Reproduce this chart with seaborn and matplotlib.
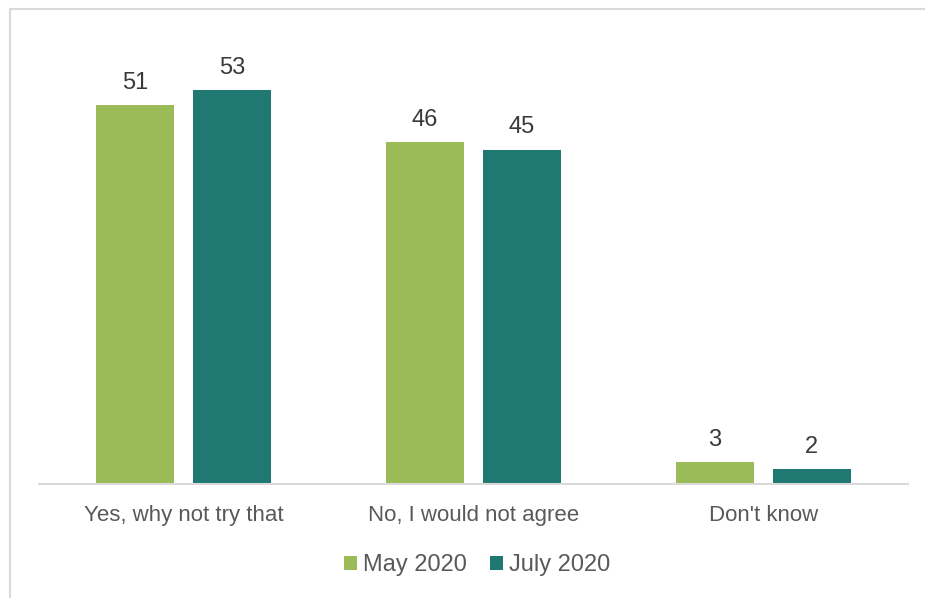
import matplotlib
matplotlib.use("Agg")
import matplotlib.pyplot as plt
from matplotlib.lines import Line2D
from matplotlib.patches import Patch
import seaborn as sns
import pandas as pd

categories = ["Yes, why not try that", "No, I would not agree", "Don't know"]
series = ["May 2020", "July 2020"]
may_2020 = [51, 46, 3]
july_2020 = [53, 45, 2]
colors = ["#9bbb59", "#1f7872"]

df = pd.DataFrame({
    "answer": categories * 2,
    "wave": [series[0]] * 3 + [series[1]] * 3,
    "value": may_2020 + july_2020,
})

sns.set_theme(style="white")
plt.rcParams["font.family"] = ["Liberation Sans", "DejaVu Sans"]

W, H = 925, 598
fig = plt.figure(figsize=(W / 100, H / 100), dpi=100)
ax = fig.add_axes([39 / W, 1 - 484 / H, (908 - 39) / W, (484 - 38) / H])

sns.barplot(data=df, x="answer", y="value", hue="wave", order=categories,
            hue_order=series, palette=colors, width=0.669, gap=0.196,
            saturation=1, legend=False, ax=ax, errorbar=None, linewidth=0)

ax.set_xlim(-0.5, 2.5)
ax.set_ylim(0, 60)
ax.set_xlabel("")
ax.set_ylabel("")
ax.set_yticks([])
for side in ["top", "right", "left"]:
    ax.spines[side].set_visible(False)
ax.spines["bottom"].set_color("#d9d9d9")
ax.spines["bottom"].set_linewidth(1.5)
ax.tick_params(axis="x", length=0, pad=15, labelsize=16, labelcolor="#595959")

for cont in ax.containers:
    for bar, v in zip(cont, cont.datavalues):
        ax.annotate(f"{v:g}", (bar.get_x() + bar.get_width() / 2, v),
                    xytext=(0, 8), textcoords="offset points",
                    ha="center", va="bottom", fontsize=17, color="#3a3a3a")

handles = [Patch(facecolor=c, edgecolor="none") for c in colors]
fig.legend(handles, series, loc="center", bbox_to_anchor=(477 / W, 1 - 565 / H),
           ncol=2, frameon=False, fontsize=17, labelcolor="#595959",
           handlelength=0.55, handleheight=0.55, handletextpad=0.25,
           columnspacing=1.0)

# thin frame around the chart area
fig.add_artist(Line2D([9.5 / W, 9.5 / W], [0, 1 - 8.5 / H], color="#d9d9d9",
                      lw=1.5, transform=fig.transFigure))
fig.add_artist(Line2D([9.5 / W, 1], [1 - 8.5 / H, 1 - 8.5 / H], color="#d9d9d9",
                      lw=1.5, transform=fig.transFigure))

fig.savefig("out.png", dpi=100, facecolor="white")
